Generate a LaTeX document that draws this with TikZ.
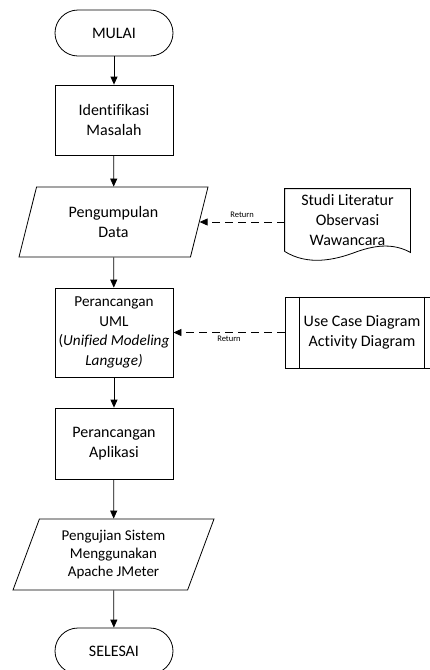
\documentclass[tikz,border=0pt]{standalone}
\usepackage{fontspec}
\setmainfont{Carlito}[Ligatures={NoCommon}]
\usetikzlibrary{shapes.geometric,arrows.meta}

\tikzset{
  base/.style={draw, line width=0.8pt, align=center, inner sep=2pt,
    font=\fontsize{16}{19.8}\selectfont},
  terminal/.style={base, rectangle, rounded corners=23pt,
    minimum width=118pt, minimum height=46pt},
  process/.style={base, rectangle, minimum width=118pt},
  inout/.style={base, trapezium, trapezium stretches body,
    trapezium left angle=63.4, trapezium right angle=116.6},
  flow/.style={line width=0.8pt, -{Triangle[length=8pt,width=7pt]}},
  ret/.style={flow, dash pattern=on 8pt off 5pt},
  retlabel/.style={font=\fontsize{8.5}{10}\selectfont, inner sep=1pt}
}

\begin{document}
\begin{tikzpicture}[x=1pt,y=-1pt]
  % Page area in pixels of the reference
  \def\picWidth{429}
  \def\picHeight{670}
  \useasboundingbox (0,0) rectangle (\picWidth,\picHeight);

  % Main flow
  \node[terminal] (mulai) at (114,33) {MULAI};
  \node[process, minimum height=70pt] (ident) at (114,120) {Identifikasi\\Masalah};
  \node[inout, minimum height=70pt, minimum width=189pt] (data) at (113.5,222) {Pengumpulan\\Data};
  \node[process, minimum height=89pt, font=\fontsize{15.2}{19.8}\selectfont] (uml) at (114,332.5)
    {Perancangan\\UML\\(\textit{Unified Modeling}\\\textit{Languge)}};
  \node[process, minimum height=71pt] (app) at (114,443.5) {Perancangan\\Aplikasi};
  \node[inout, minimum height=71pt, minimum width=201pt,
    font=\fontsize{15}{18}\selectfont] (uji) at (113.5,554.5)
    {Pengujian Sistem\\Menggunakan\\Apache JMeter};
  \node[terminal] (selesai) at (114,651) {SELESAI};

  % Side inputs
  \node[base, draw=none, minimum width=125pt, minimum height=62pt] (lit) at (347.5,220)
    {Studi Literatur\\Observasi\\Wawancara};
  \draw[line width=0.8pt] (lit.south west) -- (lit.north west) -- (lit.north east)
    -- ([yshift=-1pt]lit.south east)
    .. controls (395,244) and (378,244) .. (356,252)
    .. controls (335,260) and (308,266) .. (lit.south west);
  \node[process, minimum width=154pt, minimum height=71pt] (diag) at (362,332.5)
    {Use Case Diagram\\Activity Diagram};
  \draw[line width=0.8pt] ([xshift=15pt]diag.north west) -- ([xshift=15pt]diag.south west);
  \draw[line width=0.8pt] ([xshift=-15pt]diag.north east) -- ([xshift=-15pt]diag.south east);

  % Connectors
  \draw[flow] (mulai) -- (ident);
  \draw[flow] (ident) -- (data);
  \draw[flow] (data) -- (uml);
  \draw[flow] (uml) -- (app);
  \draw[flow] (app) -- (uji);
  \draw[flow] (uji) -- (selesai);
  \draw[ret] (lit.west |- data.east) -- node[retlabel, above=3pt, pos=0.5] {Return} (data.east);
  \draw[ret] (diag.west) -- node[retlabel, below=2pt, pos=0.5] {Return} (uml.east);
\end{tikzpicture}
\end{document}
